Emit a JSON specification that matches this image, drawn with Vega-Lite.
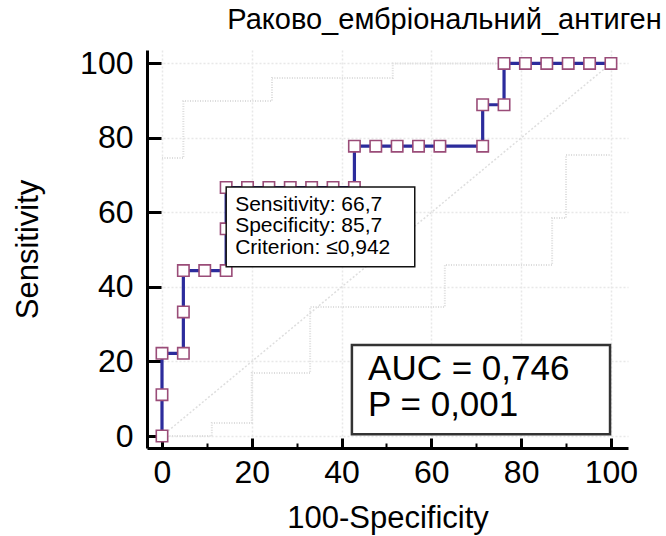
{
  "$schema": "https://vega.github.io/schema/vega-lite/v6.json",
  "autosize": {"type": "none"},
  "width": 481,
  "height": 398,
  "padding": {"left": 147, "top": 50, "right": 38, "bottom": 88},
  "background": "white",
  "config": {
    "view": {"stroke": null},
    "font": "Liberation Sans",
    "text": {"font": "Liberation Sans"}
  },
  "title": {
    "text": "Раково_ембріональний_антиген",
    "font": "Liberation Sans",
    "fontSize": 29,
    "fontWeight": "normal",
    "color": "black",
    "anchor": "middle",
    "dx": 57,
    "offset": 12
  },
  "datasets": {
    "roc": [
      {"i": 0, "fpr": 0, "sens": 0},
      {"i": 1, "fpr": 0, "sens": 11.1},
      {"i": 2, "fpr": 0, "sens": 22.2},
      {"i": 3, "fpr": 4.76, "sens": 22.2},
      {"i": 4, "fpr": 4.76, "sens": 33.3},
      {"i": 5, "fpr": 4.76, "sens": 44.4},
      {"i": 6, "fpr": 9.52, "sens": 44.4},
      {"i": 7, "fpr": 14.29, "sens": 44.4},
      {"i": 8, "fpr": 14.29, "sens": 55.6},
      {"i": 9, "fpr": 14.29, "sens": 66.7},
      {"i": 10, "fpr": 19.05, "sens": 66.7},
      {"i": 11, "fpr": 23.81, "sens": 66.7},
      {"i": 12, "fpr": 28.57, "sens": 66.7},
      {"i": 13, "fpr": 33.33, "sens": 66.7},
      {"i": 14, "fpr": 38.1, "sens": 66.7},
      {"i": 15, "fpr": 42.86, "sens": 66.7},
      {"i": 16, "fpr": 42.86, "sens": 77.8},
      {"i": 17, "fpr": 47.62, "sens": 77.8},
      {"i": 18, "fpr": 52.38, "sens": 77.8},
      {"i": 19, "fpr": 57.14, "sens": 77.8},
      {"i": 20, "fpr": 61.9, "sens": 77.8},
      {"i": 21, "fpr": 71.43, "sens": 77.8},
      {"i": 22, "fpr": 71.43, "sens": 88.9},
      {"i": 23, "fpr": 76.19, "sens": 88.9},
      {"i": 24, "fpr": 76.19, "sens": 100},
      {"i": 25, "fpr": 80.95, "sens": 100},
      {"i": 26, "fpr": 85.71, "sens": 100},
      {"i": 27, "fpr": 90.48, "sens": 100},
      {"i": 28, "fpr": 95.24, "sens": 100},
      {"i": 29, "fpr": 100, "sens": 100}
    ],
    "ci": [
      {"bound": "upper", "i": 0, "fpr": 0, "sens": 74.6},
      {"bound": "upper", "i": 1, "fpr": 4.76, "sens": 74.6},
      {"bound": "upper", "i": 2, "fpr": 4.76, "sens": 89.9},
      {"bound": "upper", "i": 3, "fpr": 24.5, "sens": 89.9},
      {"bound": "upper", "i": 4, "fpr": 24.5, "sens": 96.1},
      {"bound": "upper", "i": 5, "fpr": 51.4, "sens": 96.1},
      {"bound": "upper", "i": 6, "fpr": 51.4, "sens": 100},
      {"bound": "upper", "i": 7, "fpr": 100, "sens": 100},
      {"bound": "lower", "i": 0, "fpr": 0, "sens": 0},
      {"bound": "lower", "i": 1, "fpr": 11.1, "sens": 0},
      {"bound": "lower", "i": 2, "fpr": 11.1, "sens": 3.5},
      {"bound": "lower", "i": 3, "fpr": 20, "sens": 3.5},
      {"bound": "lower", "i": 4, "fpr": 20, "sens": 16.9},
      {"bound": "lower", "i": 5, "fpr": 33, "sens": 16.9},
      {"bound": "lower", "i": 6, "fpr": 33, "sens": 34.6},
      {"bound": "lower", "i": 7, "fpr": 63, "sens": 34.6},
      {"bound": "lower", "i": 8, "fpr": 63, "sens": 45.9},
      {"bound": "lower", "i": 9, "fpr": 86.9, "sens": 45.9},
      {"bound": "lower", "i": 10, "fpr": 86.9, "sens": 58.5},
      {"bound": "lower", "i": 11, "fpr": 90, "sens": 58.5},
      {"bound": "lower", "i": 12, "fpr": 90, "sens": 75.4},
      {"bound": "lower", "i": 13, "fpr": 100, "sens": 75.4}
    ]
  },
  "layer": [
    {
      "data": {"name": "ci"},
      "mark": {"type": "line", "color": "#dcdcdc", "strokeWidth": 2, "strokeDash": [1, 1.5]},
      "encoding": {
        "x": {
          "field": "fpr",
          "type": "quantitative",
          "scale": {"domain": [-3.34, 103.8], "nice": false, "zero": false},
          "axis": {
            "title": "100-Specificity",
            "titleFont": "Liberation Sans",
            "titleFontSize": 31,
            "titleFontWeight": "normal",
            "titleColor": "black",
            "titlePadding": 10,
            "values": [0, 5, 10, 15, 20, 25, 30, 35, 40, 45, 50, 55, 60, 65, 70, 75, 80, 85, 90, 95, 100],
            "labelExpr": "datum.value % 20 === 0 ? datum.label : ''",
            "labelFont": "Liberation Sans",
            "labelFontSize": 32,
            "labelColor": "black",
            "labelPadding": 19,
            "labelFlush": false,
            "labelOverlap": false,
            "domainColor": "black",
            "domainWidth": 3,
            "tickColor": "black",
            "tickSize": {"condition": {"test": "datum.value % 20 === 0", "value": -10}, "value": -5},
            "tickWidth": {"condition": {"test": "datum.value % 20 === 0", "value": 3}, "value": 2},
            "grid": true,
            "gridColor": "#e8e8e8",
            "gridDash": [2, 2],
            "gridWidth": 1.5,
            "gridOpacity": {"condition": {"test": "datum.value % 20 === 0", "value": 1}, "value": 0}
          }
        },
        "y": {
          "field": "sens",
          "type": "quantitative",
          "scale": {"domain": [-3.22, 103.6], "nice": false, "zero": false},
          "axis": {
            "title": "Sensitivity",
            "titleFont": "Liberation Sans",
            "titleFontSize": 31,
            "titleFontWeight": "normal",
            "titleColor": "black",
            "titlePadding": 35,
            "values": [0, 5, 10, 15, 20, 25, 30, 35, 40, 45, 50, 55, 60, 65, 70, 75, 80, 85, 90, 95, 100],
            "labelExpr": "datum.value % 20 === 0 ? datum.label : ''",
            "labelFont": "Liberation Sans",
            "labelFontSize": 32,
            "labelColor": "black",
            "labelPadding": 28,
            "labelFlush": false,
            "labelOverlap": false,
            "domainColor": "black",
            "domainWidth": 3,
            "tickColor": "black",
            "tickSize": {"condition": {"test": "datum.value % 20 === 0", "value": -14}, "value": -7},
            "tickWidth": {"condition": {"test": "datum.value % 20 === 0", "value": 3}, "value": 2},
            "grid": true,
            "gridColor": "#e8e8e8",
            "gridDash": [2, 2],
            "gridWidth": 1.5,
            "gridOpacity": {"condition": {"test": "datum.value % 20 === 0", "value": 1}, "value": 0}
          }
        },
        "detail": {"field": "bound"},
        "order": {"field": "i", "type": "quantitative"}
      }
    },
    {
      "data": {"values": [{"note": "diagonal"}]},
      "mark": {"type": "rule", "color": "#dedede", "strokeWidth": 1.5, "strokeDash": [2, 2]},
      "encoding": {
        "x": {"datum": 0},
        "y": {"datum": 0},
        "x2": {"datum": 100},
        "y2": {"datum": 100}
      }
    },
    {
      "data": {"name": "roc"},
      "mark": {"type": "line", "color": "#2c2c9c", "strokeWidth": 3.2},
      "encoding": {
        "x": {"field": "fpr", "type": "quantitative"},
        "y": {"field": "sens", "type": "quantitative"},
        "order": {"field": "i", "type": "quantitative"}
      }
    },
    {
      "data": {"name": "roc"},
      "mark": {"type": "point", "shape": "square", "size": 130, "filled": true, "fill": "white", "stroke": "#9a4c78", "strokeWidth": 1.6, "opacity": 1},
      "encoding": {
        "x": {"field": "fpr", "type": "quantitative"},
        "y": {"field": "sens", "type": "quantitative"}
      }
    },
    {
      "data": {"values": [{"note": "criterion box"}]},
      "mark": {"type": "rect", "fill": "white", "stroke": "#111111", "strokeWidth": 1.5},
      "encoding": {
        "x": {"datum": 14.3},
        "x2": {"datum": 56.3},
        "y": {"datum": 66.8},
        "y2": {"datum": 45.4}
      }
    },
    {
      "data": {"values": [{"note": "criterion text"}]},
      "mark": {"type": "text", "text": ["Sensitivity: 66,7", "Specificity: 85,7", "Criterion: ≤0,942"], "align": "left", "baseline": "middle", "fontSize": 21, "lineHeight": 21.5, "color": "black", "font": "Liberation Sans"},
      "encoding": {
        "x": {"datum": 16.3},
        "y": {"datum": 62.0}
      }
    },
    {
      "data": {"values": [{"note": "auc box"}]},
      "mark": {"type": "rect", "fill": "white", "stroke": "#333333", "strokeWidth": 2.5},
      "encoding": {
        "x": {"datum": 42.3},
        "x2": {"datum": 99.8},
        "y": {"datum": 24.4},
        "y2": {"datum": 0.5}
      }
    },
    {
      "data": {"values": [{"note": "auc text"}]},
      "mark": {"type": "text", "text": ["AUC = 0,746", "P = 0,001"], "align": "left", "baseline": "middle", "fontSize": 35, "lineHeight": 36, "color": "black", "font": "Liberation Sans"},
      "encoding": {
        "x": {"datum": 45.9},
        "y": {"datum": 17.9}
      }
    }
  ]
}
